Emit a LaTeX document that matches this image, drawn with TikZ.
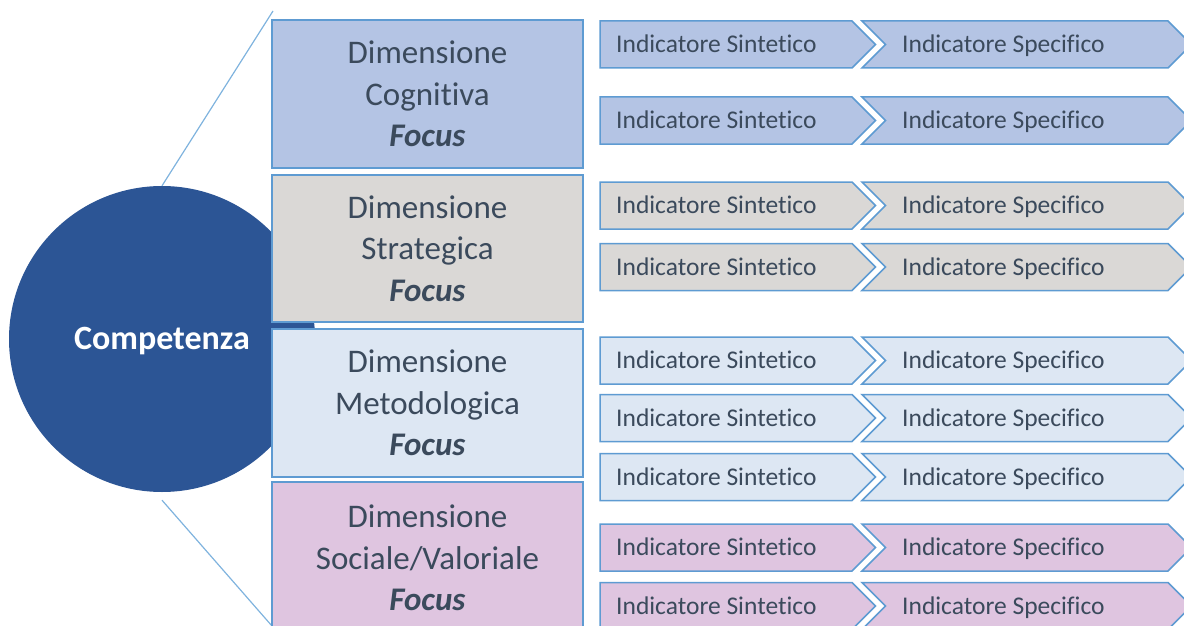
\documentclass[tikz,border=0pt]{standalone}
\usepackage{fontspec}
\setmainfont{Carlito}[Ligatures=NoCommon]
\usepackage{tikz}

\definecolor{circblue}{HTML}{2C5595}
\definecolor{edgeblue}{HTML}{5E9BD2}
\definecolor{linkblue}{HTML}{7FB3DE}
\definecolor{inktext}{HTML}{3B4A5C}
\definecolor{cogfill}{HTML}{B4C4E4}
\definecolor{strfill}{HTML}{DAD8D6}
\definecolor{metfill}{HTML}{DDE7F3}
\definecolor{socfill}{HTML}{DFC5E0}

\tikzset{
    comp/.style={circle, fill=circblue, minimum size=306pt, inner sep=0pt,
        text=white, text height=21pt, text depth=1pt,
        font=\fontsize{34}{40}\selectfont\bfseries},
    dimbox/.style={rectangle, draw=edgeblue, line width=2.5pt, minimum width=311pt,
        minimum height=148pt, align=center, text=inktext,
        font=\fontsize{33}{41.5}\selectfont},
    chev/.style={draw=edgeblue, line width=1.5pt, line join=miter},
    indtxt/.style={anchor=west, inner sep=0pt, text height=19pt, text depth=3pt,
        text=inktext, font=\fontsize{25.5}{30}\selectfont},
    link/.style={linkblue, line width=1.2pt}
}

\newcommand{\foc}{\textbf{\textit{Focus}}}
\newcommand{\indrow}[3]{
    \draw[chev, fill=#2] (600,#1-23.5) -- (852,#1-23.5) -- (875.5,#1) -- (852,#1+23.5) -- (600,#1+23.5) -- cycle;
    \draw[chev, fill=#2] (862,#1-23.5) -- (1168,#1-23.5) -- (1191.5,#1) -- (1168,#1+23.5) -- (862,#1+23.5) -- (885.5,#1) -- cycle;
    \node[indtxt] (sin#3) at (616,#1) {Indicatore Sintetico};
    \node[indtxt] (spe#3) at (902,#1) {Indicatore Specifico};
}

\begin{document}
\begin{tikzpicture}[x=1pt, y=-1pt]
        \useasboundingbox (0,0) rectangle (1184,626);

        \node[comp] (competenza) at (162,339) {Competenza};
        \coordinate (topend) at (273,11);
        \coordinate (botend) at (272,626);
        \draw[link] (competenza.north) -- (topend);
        \draw[link] ([yshift=-8pt]competenza.south) -- (botend);

        \node[dimbox, fill=cogfill] (dimcog) at (427.5,94) {Dimensione\\Cognitiva\\\foc};
        \node[dimbox, fill=strfill, minimum height=147pt] (dimstr) at (427.5,248.5) {Dimensione\\Strategica\\\foc};
        \node[dimbox, fill=metfill] (dimmet) at (427.5,403) {Dimensione\\Metodologica\\\foc};
        \node[dimbox, fill=socfill, minimum height=152pt] (dimsoc) at (427.5,558) {Dimensione\\Sociale/Valoriale\\\foc};

        \indrow{44.5}{cogfill}{1}
        \indrow{120.5}{cogfill}{2}

        \indrow{205.5}{strfill}{3}
        \indrow{267}{strfill}{4}

        \indrow{360.5}{metfill}{5}
        \indrow{418}{metfill}{6}
        \indrow{477}{metfill}{7}

        \indrow{547.5}{socfill}{8}
        \indrow{606}{socfill}{9}
    \end{tikzpicture}
\end{document}
